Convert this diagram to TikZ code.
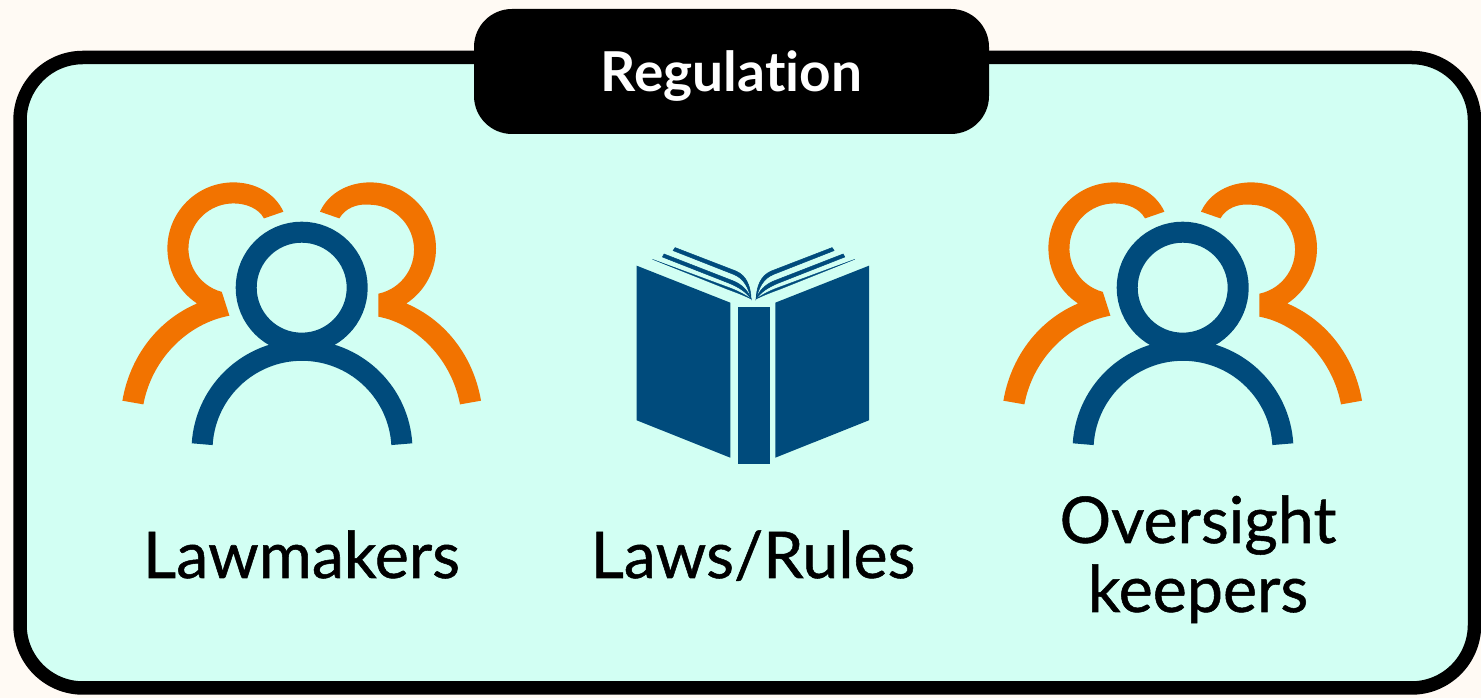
\documentclass[tikz,border=0pt]{standalone}
\usepackage{fontspec}
\setmainfont{Lato}[Ligatures=NoCommon]
\usepackage{xcolor}
\usetikzlibrary{positioning}
\definecolor{paper}{RGB}{255, 250, 244}
\definecolor{mint}{RGB}{210, 255, 243}
\definecolor{navy}{RGB}{0, 75, 124}
\definecolor{tangerine}{RGB}{242, 115, 0}
\tikzstyle{frame} = [
    draw=black, 
    line width=13.5pt, 
    rounded corners=63pt, 
    fill=mint
]
\tikzstyle{banner} = [
    rectangle, 
    rounded corners=38pt, 
    minimum width=515pt, 
    minimum height=125pt, 
    fill=black, 
    text=white, 
    text depth=0pt, 
    font=\fontsize{55}{60}\selectfont\bfseries
]
\tikzstyle{caption} = [
    anchor=base, 
    align=center, 
    text=black, 
    inner sep=0pt, 
    font=\fontsize{64.5}{69}\selectfont\addfontfeature{FakeBold=0.8}
]
\tikzset{
    person/.pic={
        % side figures
        \fill[tangerine] (-18.3,76) .. controls (-27,95) and (-47,105.3) .. (-68.3,105.3)
            arc[start angle=90, end angle=236.6, radius=66]
            .. controls (-145,-33) and (-172,-70) .. (-179.3,-113) -- (-158.3,-116.7)
            .. controls (-150,-72) and (-115,-36) .. (-72.3,-28) -- (-79.9,-4.2)
            arc[start angle=255, end angle=90, radius=45]
            .. controls (-55,84.3) and (-43,79) .. (-37.7,69.3) -- cycle;
        \fill[tangerine] (18.3,76) .. controls (27,95) and (47,105.3) .. (68.3,105.3)
            arc[start angle=90, end angle=-56.6, radius=66]
            .. controls (145,-33) and (172,-70) .. (179.3,-113) -- (158.3,-116.7)
            .. controls (150,-72) and (115,-36) .. (76.7,-29) -- (76.7,-6)
            arc[start angle=-78, end angle=90, radius=45]
            .. controls (55,84.3) and (43,79) .. (37.7,69.3) -- cycle;
        % front figure
        \draw[navy, line width=21pt] (0,0) circle (55.5);
        \draw[navy, line width=21pt] (-99.5,-156.5) arc[start angle=176.5, end angle=3.5, radius=100];
    },
    leaves/.pic={
        \filldraw[navy, line width=0.5pt] (-78.5,50.7) -- (-17.8,27.3) .. controls (-6.8,22.7) and (-3,11.7) .. (-2.5,-0.7)
            .. controls (-5,10) and (-9.5,20) .. (-20.2,24) -- (-80.5,47.7) -- cycle;
        \filldraw[navy, line width=0.5pt] (-89.5,44.3) -- (-21.2,17.7) .. controls (-11.2,14) and (-5,6.7) .. (-2.5,-0.7)
            .. controls (-7.8,6.7) and (-14.5,10.7) .. (-23.5,14.7) -- (-91.2,41.3) -- cycle;
        \filldraw[navy, line width=0.3pt] (-101.2,39) -- (-24.5,10.7) .. controls (-16.2,7.7) and (-7.8,3.3) .. (-2.5,-0.7)
            .. controls (-9.5,2.7) and (-17.8,6) .. (-26.2,9) -- cycle;
    }
}
\begin{document}
\begin{tikzpicture}[x=1pt, y=1pt]
    \useasboundingbox (0,0) rectangle (1481,698);
    \fill[paper] (0,0) rectangle (1481,698);
    \draw[frame] (20,10) rectangle (1474.5,640.5);
    \node[banner] (regulation) at (731.5,626.5) {Regulation};

    \pic at (301.7,410.3) {person};
    \pic at (1182.7,410.3) {person};

    % book
    \fill[navy] (636.7,432.3) -- (730.3,395.3) -- (730.3,240.3) -- (636.7,277.7) -- cycle;
    \fill[navy] (869,432.3) -- (775.3,395.3) -- (775.3,240.3) -- (869,277.7) -- cycle;
    \fill[navy] (738,390.7) rectangle (770.3,233.7);
    \pic at (753.6,399.7) {leaves};
    \pic[xscale=-1] at (753.6,399.7) {leaves};

    \node[caption] (lawmakers) at (301.5,120) {Lawmakers};
    \node[caption] (laws) at (753,120) {Laws/Rules};
    \node[caption] (keepers) at (1198,86) {keepers};
    \node[caption, above=69pt of keepers.base, anchor=base] (oversight) {Oversight};
\end{tikzpicture}
\end{document}
